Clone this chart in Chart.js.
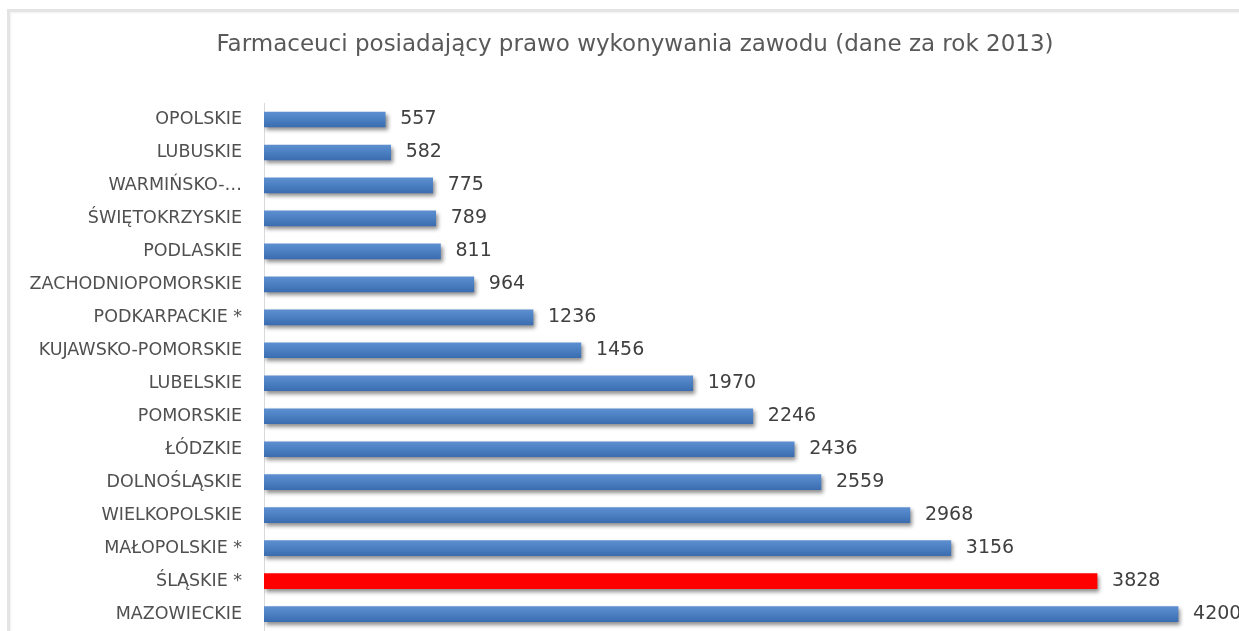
<!DOCTYPE html>
<html>
<head>
<meta charset="utf-8">
<script src="https://cdn.jsdelivr.net/npm/chart.js@4"></script>
<style>
    html, body { margin: 0; padding: 0; background: #ffffff; overflow: hidden; }
    #wrap { position: relative; width: 1239px; height: 631px; overflow: hidden; }
    #frame {
        position: absolute; left: 7px; top: 9px; width: 1300px; height: 700px;
        border: 3px solid #e4e4e4; box-shadow: inset 1px 1px 2px #f0f0f0;
    }
    #chart { position: absolute; left: 0; top: 0; }
</style>
</head>
<body>
<div id="wrap">
    <div id="frame"></div>
    <canvas id="chart" width="1239" height="631"></canvas>
</div>
<script>
// Data (top to bottom)
const categories = [
    "OPOLSKIE", "LUBUSKIE", "WARMIŃSKO-…", "ŚWIĘTOKRZYSKIE", "PODLASKIE",
    "ZACHODNIOPOMORSKIE", "PODKARPACKIE *", "KUJAWSKO-POMORSKIE", "LUBELSKIE",
    "POMORSKIE", "ŁÓDZKIE", "DOLNOŚLĄSKIE", "WIELKOPOLSKIE", "MAŁOPOLSKIE *",
    "ŚLĄSKIE *", "MAZOWIECKIE"
];
const pharmacists = [557, 582, 775, 789, 811, 964, 1236, 1456, 1970, 2246, 2436, 2559, 2968, 3156, 3828, 4200];
const highlighted = "ŚLĄSKIE *";
const chartTitle = "Farmaceuci posiadający prawo wykonywania zawodu (dane za rok 2013)";

const FONT = "'DejaVu Sans', sans-serif";

// Blue gradient per bar, flat red for the highlighted one
function barColor(context) {
    if (categories[context.dataIndex] === highlighted) return "#ff0000";
    const chart = context.chart;
    const yScale = chart.scales.y;
    if (!chart.chartArea || !yScale) return "#4f81bd";
    const y = yScale.getPixelForValue(context.dataIndex);
    const g = chart.ctx.createLinearGradient(0, y - 7.5, 0, y + 7.5);
    g.addColorStop(0, "#5d8fd0");
    g.addColorStop(0.5, "#4a7fc2");
    g.addColorStop(1, "#3b6db0");
    return g;
}

// Soft shadow under the bars
const barShadow = {
    id: "barShadow",
    beforeDatasetsDraw(chart) {
        const ctx = chart.ctx;
        ctx.save();
        ctx.shadowColor = "rgba(0, 0, 0, 0.45)";
        ctx.shadowBlur = 4;
        ctx.shadowOffsetX = 2;
        ctx.shadowOffsetY = 3;
    },
    afterDatasetsDraw(chart) {
        chart.ctx.restore();
    }
};

// Title and value labels
const textLayer = {
    id: "textLayer",
    afterDraw(chart) {
        const ctx = chart.ctx;
        const meta = chart.getDatasetMeta(0);
        ctx.save();
        ctx.fillStyle = "#595959";
        ctx.font = "23px " + FONT;
        ctx.textAlign = "center";
        ctx.textBaseline = "middle";
        ctx.fillText(chartTitle, 635, 45);

        ctx.font = "19px " + FONT;
        ctx.fillStyle = "#404040";
        ctx.textAlign = "left";
        meta.data.forEach((bar, i) => {
            ctx.fillText(String(pharmacists[i]), bar.x + 15, bar.y);
        });
        ctx.restore();
    }
};

new Chart(document.getElementById("chart").getContext("2d"), {
    type: "bar",
    data: {
        labels: categories,
        datasets: [{
            data: pharmacists,
            backgroundColor: barColor,
            borderWidth: 0,
            barThickness: 15
        }]
    },
    options: {
        indexAxis: "y",
        responsive: false,
        animation: false,
        layout: { padding: { left: 0, right: 0, top: 103, bottom: 0 } },
        plugins: {
            legend: { display: false },
            tooltip: { enabled: false },
            title: { display: false }
        },
        scales: {
            x: { display: false, min: 0, max: 4480 },
            y: {
                // invisible tick length gives the label gap without extra bottom padding
                grid: { display: false, drawTicks: true, tickLength: 22 },
                border: { display: true, color: "#d9d9d9", width: 1 },
                ticks: {
                    color: "#505050",
                    padding: 0,
                    // tiny line height so the last label does not shrink the plot area
                    font: { family: FONT, size: 17.5, lineHeight: 0.05 }
                },
                afterFit(scale) { scale.width = 264; }
            }
        }
    },
    plugins: [barShadow, textLayer]
});
</script>
</body>
</html>
